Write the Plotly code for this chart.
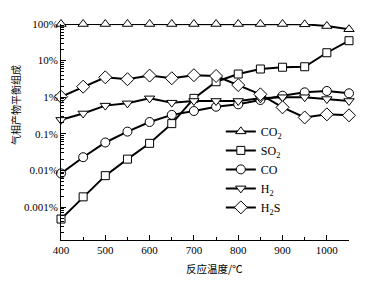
import plotly.graph_objects as go

temps = [400, 450, 500, 550, 600, 650, 700, 750, 800, 850, 900, 950, 1000, 1050]
co2 = [100, 100, 100, 100, 100, 100, 100, 100, 100, 100, 100, 98, 88, 72]
so2 = [0.00047, 0.0019, 0.0072, 0.0204, 0.055, 0.19, 0.93, 2.65, 4.3, 5.9, 6.6, 6.8, 16.4, 35]
co = [0.0083, 0.023, 0.058, 0.115, 0.21, 0.33, 0.42, 0.55, 0.64, 0.84, 1.1, 1.36, 1.48, 1.28]
h2 = [0.24, 0.36, 0.59, 0.68, 0.93, 0.71, 0.79, 0.79, 0.79, 0.93, 1.0, 1.0, 0.89, 0.79]
h2s = [1.03, 1.94, 3.5, 3.1, 3.9, 3.3, 4.0, 3.8, 2.15, 1.2, 0.53, 0.28, 0.34, 0.32]

names = ["CO<sub>2</sub>", "SO<sub>2</sub>", "CO", "H<sub>2</sub>", "H<sub>2</sub>S"]
series = [co2, so2, co, h2, h2s]
symbols = ["triangle-up", "square", "circle", "triangle-down", "diamond"]
sizes = [9, 8, 9, 9, 10]

ytickvals = [100, 10, 1, 0.1, 0.01, 0.001]
yticktext = ["100%", "10%", "1%", "0.1%", "0.01%", "0.001%"]
xtickvals = [400, 500, 600, 700, 800, 900, 1000]
xminor = [450, 550, 650, 750, 850, 950, 1050]

fig = go.Figure()
for name, vals, sym, sz in zip(names, series, symbols, sizes):
    fig.add_trace(go.Scatter(
        x=temps, y=vals, name=name, mode="lines+markers",
        line=dict(color="black", width=2),
        marker=dict(symbol=sym, size=sz, color="white",
                    line=dict(color="black", width=1)),
        cliponaxis=False,
    ))

minor_y = [m * 10.0 ** e for e in range(-4, 2) for m in range(2, 10)]
minor_y = [v for v in minor_y if 10 ** -3.9 <= v <= 100]

serif = "Liberation Serif"
cjk = "Noto Sans CJK SC"

fig.update_layout(
    width=368, height=278,
    margin=dict(l=53, r=27, t=16, b=46, autoexpand=False),
    paper_bgcolor="white", plot_bgcolor="white",
    font=dict(family=serif, size=11, color="black"),
    showlegend=True,
    legend=dict(x=0.555, y=0.57, xanchor="left", yanchor="top",
                bgcolor="rgba(0,0,0,0)", font=dict(family=serif, size=12),
                tracegroupgap=0, itemsizing="trace"),
    xaxis=dict(range=[400, 1050], showgrid=False, zeroline=False, automargin=False,
               showline=True, linecolor="black", linewidth=1,
               tickmode="array", tickvals=xtickvals,
               ticks="inside", ticklen=5, tickcolor="black",
               tickfont=dict(family=serif, size=11),
               minor=dict(tickmode="array", tickvals=xminor,
                          ticks="inside", ticklen=3, tickcolor="black", showgrid=False)),
    yaxis=dict(type="log", range=[-3.9, 2], showgrid=False, zeroline=False, automargin=False,
               showline=True, linecolor="black", linewidth=1,
               tickmode="array", tickvals=ytickvals, ticktext=yticktext,
               ticks="inside", ticklen=5, tickcolor="black",
               tickfont=dict(family=serif, size=11),
               minor=dict(tickmode="array", tickvals=minor_y,
                          ticks="inside", ticklen=3, tickcolor="black", showgrid=False)),
    annotations=[
        dict(text="气相产物平衡组成", xref="paper", yref="paper",
             x=-0.16, y=0.625, xanchor="center", yanchor="middle",
             textangle=-90, showarrow=False,
             font=dict(family=cjk, size=10)),
        dict(text="反应温度/℃", xref="paper", yref="paper",
             x=0.533, y=-0.134, xanchor="center", yanchor="middle",
             showarrow=False,
             font=dict(family=cjk, size=10.5)),
    ],
)

fig.write_html("out.html")
